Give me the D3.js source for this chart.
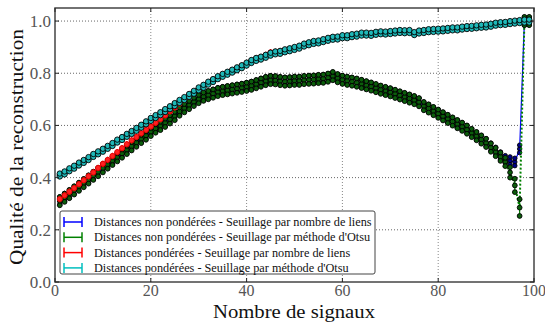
<!DOCTYPE html>
<html>
<head>
<meta charset="utf-8">
<script src="https://cdn.jsdelivr.net/npm/d3@7"></script>
<style>
  body { margin: 0; background: #fff; }
  svg { display: block; }
</style>
</head>
<body>
<div id="chart"></div>
<script>
// Number of signals (x), 1..99
const signals = d3.range(1, 100);

const xTicks = [0, 20, 40, 60, 80, 100];
const yTicks = [0.0, 0.2, 0.4, 0.6, 0.8, 1.0];

const seriesNames = [
    'Distances non pondérées - Seuillage par nombre de liens',
    'Distances non pondérées - Seuillage par méthode d\'Otsu',
    'Distances pondérées - Seuillage par nombre de liens',
    'Distances pondérées - Seuillage par méthode d\'Otsu'
];

const blueValues = [
    .312, .325, .338, .352, .366, .380, .394, .408, .423, .438, .452, .466, .480, .494, .508, .522, .536, .550, .563, .577, .590, .600, .612, .625, .638,
    .655, .668, .680, .692, .703, .712, .718, .724, .730, .734, .737, .740, .743, .746, .750, .754, .760, .766, .772, .776, .775, .772, .770, .771, .773,
    .772, .775, .776, .777, .779, .780, .784, .790, .782, .776, .772, .769, .765, .760, .755, .750, .744, .738, .733, .728, .722, .716, .710, .704, .698,
    .690, .675, .666, .656, .646, .636, .626, .616, .606, .596, .585, .572, .560, .547, .535, .518, .502, .484, .470, .465, .460, .510, 1.0, 1.0
];

const greenValues = [
    .310, .323, .337, .351, .365, .379, .393, .407, .421, .436, .450, .464, .478, .492, .506, .520, .534, .548, .561, .575, .588, .598, .610, .623, .636,
    .653, .666, .678, .690, .701, .710, .716, .722, .728, .732, .735, .738, .741, .744, .748, .752, .758, .764, .770, .774, .773, .770, .768, .769, .771,
    .771, .774, .775, .776, .778, .779, .783, .789, .781, .775, .771, .768, .764, .759, .754, .749, .743, .737, .732, .727, .721, .715, .709, .703, .697,
    .689, .674, .665, .655, .645, .635, .625, .615, .605, .595, .584, .571, .559, .546, .533, .515, .498, .480, .460, .420, .370, .285, 1.0, 1.0
];

const redValues = [
    .318, .332, .346, .360, .375, .390, .405, .420, .437, .453, .468, .483, .498, .513, .528, .543, .556, .570, .583, .596, .610, .624, .639, .654, .669, .684, .698, .711, .725, .740,
    .752, .764, .775, .785, .795, .803, .812, .820, .829, .838, .848, .856, .862, .870, .880, .882, .884, .888, .892, .897, .902, .910, .914, .919, .921, .926, .931, .934, .936, .940,
    .941, .944, .947, .950, .951, .950, .953, .955, .955, .957, .958, .960, .960, .961, .954, .958, .961, .963, .964, .966,
    .967, .968, .970, .971, .974, .975, .977, .979, .980, .982, .985, .988, .990, .992, .994, .996, .998, 1.0, 1.0
];

const cyanValues = [
    .410, .418, .430, .440, .452, .462, .473, .485, .495, .505, .516, .527, .540, .550, .562, .573, .585, .597, .610, .623,
    .634, .645, .657, .668, .680, .692, .703, .715, .727, .740, .750, .762, .772, .783, .792, .800, .808, .817, .825, .835,
    .845, .853, .858, .865, .873, .878, .880, .886, .890, .895, .900, .908, .913, .918, .920, .925, .930, .934, .935, .940,
    .940, .944, .946, .950, .950, .949, .953, .955, .954, .956, .958, .960, .959, .960, .952, .958, .960, .963, .964, .965,
    .966, .968, .970, .970, .973, .975, .976, .978, .980, .981, .984, .988, .990, .991, .994, .996, .998, 1.0, 1.0
];

// error half-widths
const blueErr = 0.018;
const greenErr = 0.02;
const redErr = 0.012;
const cyanErr = 0.007;
// bigger spread for the last green points (x = 95, 96, 97)
const greenTailErr = [0.025, 0.032, 0.04];

const W = 545, H = 325;
const svg = d3.select('#chart').append('svg')
    .attr('width', W)
    .attr('height', H)
    .attr('font-family', '"Liberation Serif", "DejaVu Serif", serif');

const x = d3.scaleLinear().domain([0, 100]).range([55, 534]);
const y = d3.scaleLinear().domain([0, 1.05]).range([282, 8]);

// Grid
svg.append('g').selectAll('line')
    .data(xTicks.slice(1, -1)).enter()
    .append('line')
    .attr('x1', d => x(d)).attr('x2', d => x(d))
    .attr('y1', y(0)).attr('y2', y(1.05))
    .attr('stroke', '#888').attr('stroke-width', 1).attr('stroke-dasharray', '1,2');
svg.append('g').selectAll('line')
    .data(yTicks.slice(1)).enter()
    .append('line')
    .attr('x1', x(0)).attr('x2', x(100))
    .attr('y1', d => y(d)).attr('y2', d => y(d))
    .attr('stroke', '#666').attr('stroke-width', 1).attr('stroke-dasharray', '1,2');

const series = [
    {name: seriesNames[0], values: blueValues, err: blueErr, color: '#0000ff', fill: '#00008b', stroke: '#000', r: 2.2, dash: null, lw: 1.2, stack: true},
    {name: seriesNames[1], values: greenValues, err: greenErr, color: '#008000', fill: '#0b5d0b', stroke: '#000', r: 2.4, dash: '2,2', lw: 2, stack: true},
    {name: seriesNames[2], values: redValues, err: redErr, color: '#ff0000', fill: '#ff2020', stroke: '#e00000', r: 2.6, dash: null, lw: 1.2, stack: false},
    {name: seriesNames[3], values: cyanValues, err: cyanErr, color: '#00bfbf', fill: '#1fb8b8', stroke: '#000', r: 2.7, dash: '2,2', lw: 1.5, stack: true}
];

function errOf(s, i) {
    if (s.values === greenValues && i >= 94 && i <= 96) return greenTailErr[i - 94];
    return s.err;
}

const line = d3.line().x(d => x(d[0])).y(d => y(d[1]));

series.forEach(s => {
    const pts = signals.map((sx, i) => [sx, s.values[i], errOf(s, i)]);
    const g = svg.append('g');

    // error bars
    g.selectAll('line').data(pts).enter()
        .append('line')
        .attr('x1', d => x(d[0])).attr('x2', d => x(d[0]))
        .attr('y1', d => y(d[1] - d[2])).attr('y2', d => y(d[1] + d[2]))
        .attr('stroke', s.color).attr('stroke-width', 1.2);

    // connecting line
    g.append('path')
        .datum(pts)
        .attr('d', line)
        .attr('fill', 'none')
        .attr('stroke', s.color)
        .attr('stroke-width', s.lw)
        .attr('stroke-dasharray', s.dash);

    // markers (a small column of circles per point)
    const marks = [];
    pts.forEach(d => {
        marks.push([d[0], d[1]]);
        if (s.stack) {
            marks.push([d[0], d[1] - d[2] * 0.8]);
            marks.push([d[0], d[1] + d[2] * 0.8]);
        }
    });
    g.selectAll('circle').data(marks).enter()
        .append('circle')
        .attr('cx', d => x(d[0]))
        .attr('cy', d => y(d[1]))
        .attr('r', s.r)
        .attr('fill', s.fill)
        .attr('stroke', s.stroke)
        .attr('stroke-width', 0.9);
});

// Frame
svg.append('rect')
    .attr('x', x(0)).attr('y', y(1.05))
    .attr('width', x(100) - x(0)).attr('height', y(0) - y(1.05))
    .attr('fill', 'none').attr('stroke', '#444').attr('stroke-width', 1.5);

// Ticks (inward, all sides)
const tickG = svg.append('g').attr('stroke', '#222').attr('stroke-width', 1);
xTicks.forEach(t => {
    tickG.append('line').attr('x1', x(t)).attr('x2', x(t)).attr('y1', y(0)).attr('y2', y(0) - 4);
    tickG.append('line').attr('x1', x(t)).attr('x2', x(t)).attr('y1', y(1.05)).attr('y2', y(1.05) + 4);
});
yTicks.forEach(t => {
    tickG.append('line').attr('x1', x(0)).attr('x2', x(0) + 4).attr('y1', y(t)).attr('y2', y(t));
    tickG.append('line').attr('x1', x(100)).attr('x2', x(100) - 4).attr('y1', y(t)).attr('y2', y(t));
});

// Tick labels
svg.append('g').selectAll('text')
    .data(xTicks).enter()
    .append('text')
    .attr('x', d => x(d))
    .attr('y', 296)
    .attr('font-size', 16)
    .attr('fill', '#555')
    .attr('text-anchor', 'middle')
    .text(d => d);
svg.append('g').selectAll('text')
    .data(yTicks).enter()
    .append('text')
    .attr('x', 51)
    .attr('y', d => y(d) + 6)
    .attr('font-size', 17)
    .attr('fill', '#555')
    .attr('text-anchor', 'end')
    .text(d => d.toFixed(1));

// Axis titles
svg.append('text')
    .attr('x', 294)
    .attr('y', 318)
    .attr('font-size', 19)
    .attr('text-anchor', 'middle')
    .attr('fill', '#111')
    .attr('textLength', 162)
    .attr('lengthAdjust', 'spacingAndGlyphs')
    .text('Nombre de signaux');
svg.append('text')
    .attr('transform', 'translate(23, 147) rotate(-90)')
    .attr('font-size', 19)
    .attr('text-anchor', 'middle')
    .attr('fill', '#111')
    .attr('textLength', 236)
    .attr('lengthAdjust', 'spacingAndGlyphs')
    .text('Qualité de la reconstruction');

// Legend
const legend = svg.append('g');
legend.append('rect')
    .attr('x', 60).attr('y', 211)
    .attr('width', 315).attr('height', 63)
    .attr('rx', 2)
    .attr('fill', '#fff')
    .attr('stroke', '#444')
    .attr('stroke-width', 1);

const rows = legend.selectAll('g.row')
    .data(series).enter()
    .append('g')
    .attr('class', 'row')
    .attr('transform', (d, i) => `translate(0, ${222 + i * 15.3})`);

rows.append('line')
    .attr('x1', 64).attr('x2', 82).attr('y1', 0).attr('y2', 0)
    .attr('stroke', d => d.color).attr('stroke-width', 1.5);
rows.append('line')
    .attr('x1', 64).attr('x2', 64).attr('y1', -5).attr('y2', 5)
    .attr('stroke', d => d.color).attr('stroke-width', 1.5);
rows.append('line')
    .attr('x1', 82).attr('x2', 82).attr('y1', -5).attr('y2', 5)
    .attr('stroke', d => d.color).attr('stroke-width', 1.5);
const legendText = rows.append('text')
    .attr('x', 94)
    .attr('y', 4)
    .attr('font-size', 11.5)
    .attr('fill', '#111')
    .text(d => d.name);

// fit the font so the longest row ends near the box edge (as in the original)
const firstLen = legendText.node().getComputedTextLength();
legendText.attr('font-size', 11.5 * 278 / firstLen);
</script>
</body>
</html>
